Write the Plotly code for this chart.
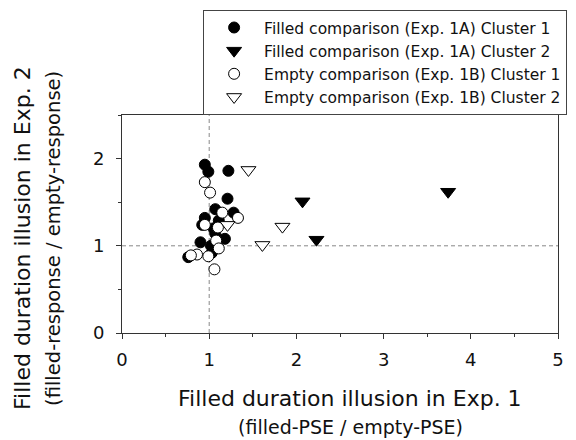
import plotly.graph_objects as go

# Filled comparison (Exp. 1A) Cluster 1
fc1_x = [0.95, 0.99, 1.22, 1.21, 1.07, 1.28, 0.95, 1.11, 1.05, 0.92, 1.07, 0.90, 1.18, 0.76, 1.03, 1.02]
fc1_y = [1.93, 1.85, 1.86, 1.54, 1.42, 1.38, 1.32, 1.29, 1.20, 1.24, 1.14, 1.04, 1.08, 0.87, 0.92, 1.00]
# Filled comparison (Exp. 1A) Cluster 2
fc2_x = [2.07, 2.23, 3.74]
fc2_y = [1.51, 1.07, 1.62]
# Empty comparison (Exp. 1B) Cluster 1
ec1_x = [0.95, 1.01, 1.15, 1.33, 0.95, 1.08, 1.11, 0.86, 0.99, 1.06, 0.79, 1.10]
ec1_y = [1.73, 1.61, 1.38, 1.32, 1.24, 1.06, 0.97, 0.90, 0.88, 0.73, 0.89, 1.21]
# Empty comparison (Exp. 1B) Cluster 2
ec2_x = [1.45, 1.84, 1.61, 1.21]
ec2_y = [1.87, 1.22, 1.01, 1.24]

names = ["Filled comparison (Exp. 1A) Cluster 1",
         "Filled comparison (Exp. 1A) Cluster 2",
         "Empty comparison (Exp. 1B) Cluster 1",
         "Empty comparison (Exp. 1B) Cluster 2"]

x_ticks = [0, 1, 2, 3, 4, 5]
y_ticks = [0, 1, 2]

FONT = "DejaVu Sans, Arial, sans-serif"

fig = go.Figure()
fig.add_trace(go.Scatter(x=fc1_x, y=fc1_y, mode="markers", name=names[0],
                         marker=dict(symbol="circle", size=11, color="black",
                                     line=dict(color="black", width=1))))
fig.add_trace(go.Scatter(x=fc2_x, y=fc2_y, mode="markers", name=names[1],
                         marker=dict(symbol="triangle-down", size=13, color="black",
                                     line=dict(color="black", width=1))))
fig.add_trace(go.Scatter(x=ec1_x, y=ec1_y, mode="markers", name=names[2],
                         marker=dict(symbol="circle", size=11, color="white",
                                     line=dict(color="black", width=1))))
fig.add_trace(go.Scatter(x=ec2_x, y=ec2_y, mode="markers", name=names[3],
                         marker=dict(symbol="triangle-down", size=13, color="white",
                                     line=dict(color="black", width=1))))

# reference lines at 1
fig.add_shape(type="line", xref="x", yref="paper", x0=1, x1=1, y0=0, y1=1,
              line=dict(color="#888", width=1, dash="4px,3px"), layer="below")
fig.add_shape(type="line", xref="paper", yref="y", x0=0, x1=1, y0=1, y1=1,
              line=dict(color="#888", width=1, dash="4px,3px"), layer="below")

axis_common = dict(showline=True, mirror=True, linecolor="#333", linewidth=1,
                   ticks="outside", ticklen=5, tickcolor="#333", showgrid=False,
                   zeroline=False, tickfont=dict(family=FONT, size=18, color="#111"))

fig.update_xaxes(range=[0, 5], tickvals=x_ticks, ticklabelstandoff=5,
                 minor=dict(dtick=0.5, ticks="outside", ticklen=3, tickcolor="#333", showgrid=False),
                 **axis_common)
fig.update_yaxes(range=[0, 2.5], tickvals=y_ticks, ticklabelstandoff=8,
                 minor=dict(dtick=0.5, ticks="outside", ticklen=3, tickcolor="#333", showgrid=False),
                 **axis_common)

fig.add_annotation(text="Filled duration illusion in Exp. 1", xref="paper", yref="paper",
                   x=0.523, y=-0.300, showarrow=False, xanchor="center", yanchor="middle",
                   font=dict(family=FONT, size=22, color="#111"))
fig.add_annotation(text="(filled-PSE / empty-PSE)", xref="paper", yref="paper",
                   x=0.523, y=-0.430, showarrow=False, xanchor="center", yanchor="middle",
                   font=dict(family=FONT, size=19, color="#111"))
fig.add_annotation(text="Filled duration illusion in Exp. 2", xref="paper", yref="paper",
                   x=-0.227, y=0.436, showarrow=False, textangle=-90,
                   xanchor="center", yanchor="middle",
                   font=dict(family=FONT, size=22, color="#111"))
fig.add_annotation(text="(filled-response / empty-response)", xref="paper", yref="paper",
                   x=-0.156, y=0.436, showarrow=False, textangle=-90,
                   xanchor="center", yanchor="middle",
                   font=dict(family=FONT, size=19.5, color="#111"))

fig.update_layout(
    width=576, height=440,
    margin=dict(l=114, r=26, t=107, b=115, autoexpand=False),
    plot_bgcolor="white", paper_bgcolor="white",
    showlegend=True,
    legend=dict(x=0.186, y=1.482, xanchor="left", yanchor="top",
                bordercolor="#444", borderwidth=1, bgcolor="white",
                font=dict(family=FONT, size=15.5, color="#111"),
                tracegroupgap=0, itemwidth=50),
)

fig.write_html("out.html")
